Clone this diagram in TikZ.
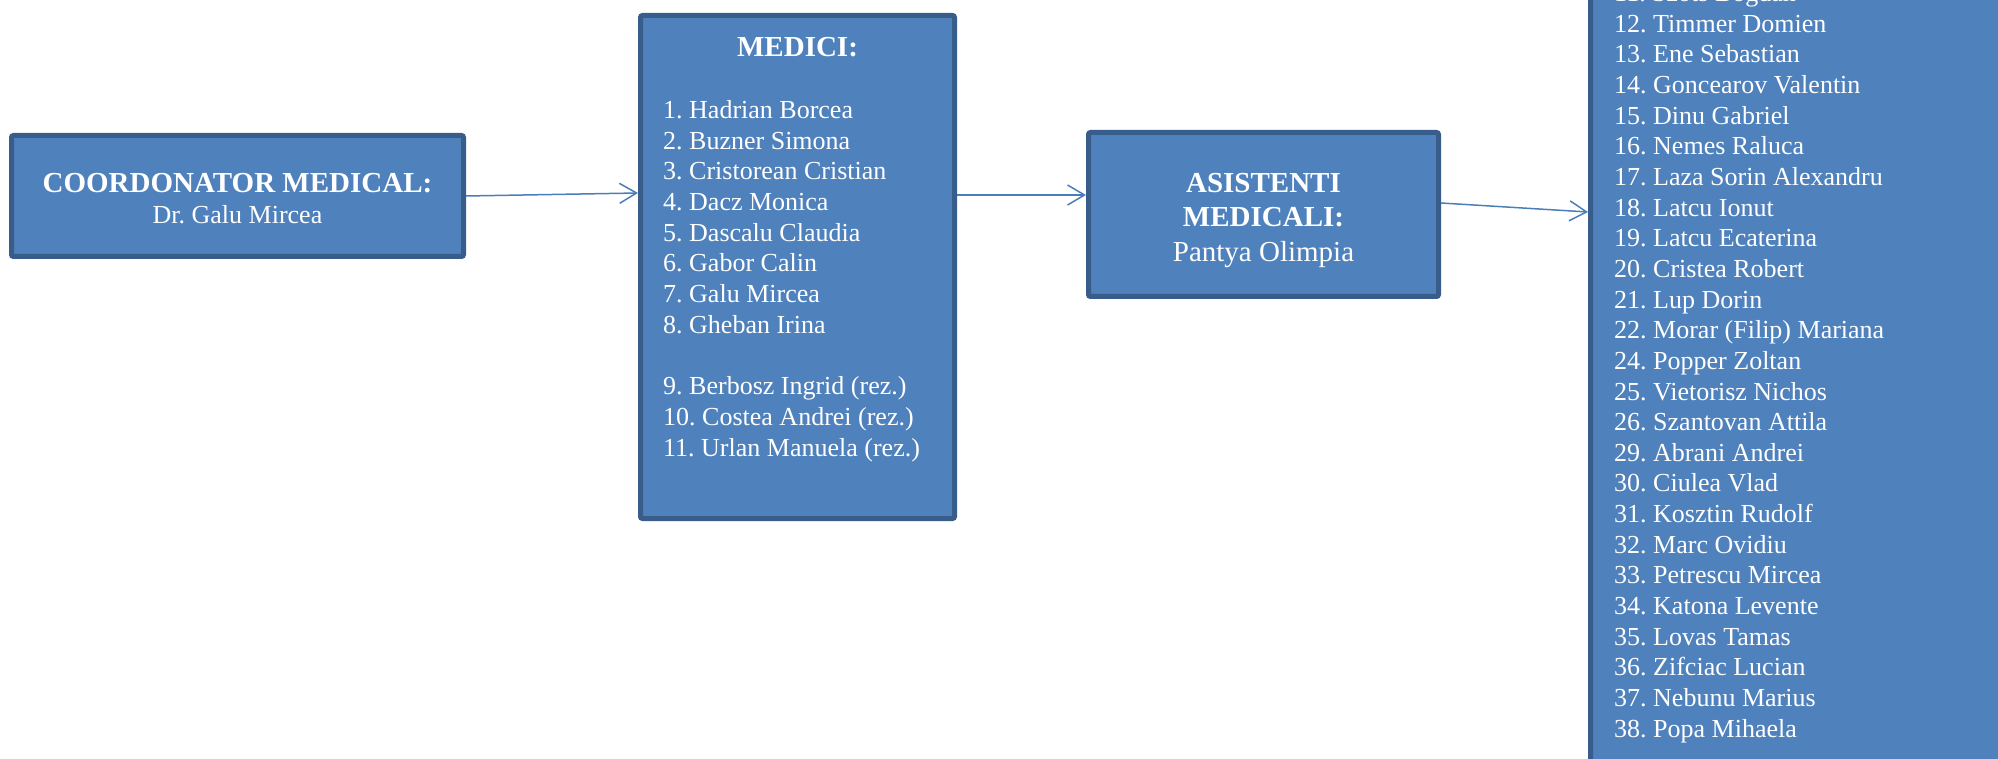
\documentclass[tikz,border=0pt]{standalone}
\usepackage{fontspec}
\setmainfont{Liberation Serif}
\usetikzlibrary{arrows.meta}
\definecolor{boxfill}{HTML}{4F81BD}
\definecolor{boxline}{HTML}{385D8A}
\definecolor{arrowcol}{HTML}{4A7EBB}
\frenchspacing
\begin{document}
\begin{tikzpicture}[x=1pt,y=-1pt,
  orgbox/.style={draw=boxline, fill=boxfill, line width=5pt, rounded corners=2pt, inner sep=0pt},
  txt/.style={text=white, inner sep=0pt, anchor=base},
  arr/.style={draw=arrowcol, line width=1.5pt, -{Straight Barb[length=17pt,width=20pt]}}]
\useasboundingbox (0,0) rectangle (1998,759);
\clip (0,0) rectangle (1998,759);
% boxes
\node[orgbox, minimum width=452pt, minimum height=121pt] (coord) at (237.5,196) {};
\node[orgbox, minimum width=314pt, minimum height=503pt] (medici) at (797.5,267) {};
\node[orgbox, minimum width=350pt, minimum height=164pt] (asist) at (1263.5,214.5) {};
\node[orgbox, minimum width=607pt, minimum height=1000pt] (asistlist) at (1894,400) {};
% texts
\node[txt] (coordtxt) at (237.5,192.5) {\parbox[t]{440pt}{\centering\fontsize{29}{31.5}\selectfont\bfseries COORDONATOR MEDICAL:\\ \mdseries\fontsize{26}{31.5}\selectfont Dr. Galu Mircea}};
\node[txt] (medicititle) at (797.5,56.5) {\fontsize{29}{31}\selectfont\bfseries MEDICI:};
\node[txt, anchor=base west] (medicilist) at (663,118.5) {\parbox[t]{290pt}{\raggedright\fontsize{26}{30.7}\selectfont
1. Hadrian Borcea\\
2. Buzner Simona\\
3. Cristorean Cristian\\
4. Dacz Monica\\
5. Dascalu Claudia\\
6. Gabor Calin\\
7. Galu Mircea\\
8. Gheban Irina\\[30.7pt]
9. Berbosz Ingrid (rez.)\\
10. Costea Andrei (rez.)\\
11. Urlan Manuela (rez.)}};
\node[txt] (asisttxt) at (1263.5,192.5) {\parbox[t]{330pt}{\centering\fontsize{29}{34.5}\selectfont\bfseries ASISTENTI\\ MEDICALI:\\ \mdseries Pantya Olimpia}};
\node[txt, anchor=base west] (asistnames) at (1614,1.6) {\parbox[t]{370pt}{\raggedright\fontsize{26}{30.65}\selectfont
11. Szots Bogdan\\
12. Timmer Domien\\
13. Ene Sebastian\\
14. Goncearov Valentin\\
15. Dinu Gabriel\\
16. Nemes Raluca\\
17. Laza Sorin Alexandru\\
18. Latcu Ionut\\
19. Latcu Ecaterina\\
20. Cristea Robert\\
21. Lup Dorin\\
22. Morar (Filip) Mariana\\
24. Popper Zoltan\\
25. Vietorisz Nichos\\
26. Szantovan Attila\\
29. Abrani Andrei\\
30. Ciulea Vlad\\
31. Kosztin Rudolf\\
32. Marc Ovidiu\\
33. Petrescu Mircea\\
34. Katona Levente\\
35. Lovas Tamas\\
36. Zifciac Lucian\\
37. Nebunu Marius\\
38. Popa Mihaela}};
% connectors
\draw[arr] (coord.east) -- ([yshift=74pt]medici.west);
\draw[arr] ([yshift=72pt]medici.east) -- ([yshift=19.5pt]asist.west);
\draw[arr] ([yshift=11.5pt]asist.east) -- ([yshift=188pt]asistlist.west);
\end{tikzpicture}
\end{document}
